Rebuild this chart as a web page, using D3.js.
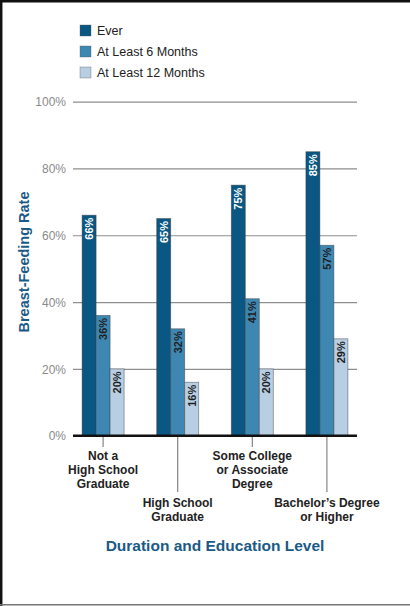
<!DOCTYPE html>
<html>
<head>
<meta charset="utf-8">
<script src="https://cdn.jsdelivr.net/npm/d3@7"></script>
<style>
  html, body { margin: 0; padding: 0; background: #fff; }
  svg { display: block; }
</style>
</head>
<body>
<script>
// ---- data ----
const categories = [
  ["Not a", "High School", "Graduate"],
  ["High School", "Graduate"],
  ["Some College", "or Associate", "Degree"],
  ["Bachelor\u2019s Degree", "or Higher"]
];
const seriesNames = ["Ever", "At Least 6 Months", "At Least 12 Months"];
const everValues = [66, 65, 75, 85];
const sixMonthValues = [36, 32, 41, 57];
const twelveMonthValues = [20, 16, 20, 29];
const yTicks = [0, 20, 40, 60, 80, 100];
const yTitle = "Breast-Feeding Rate";
const xTitle = "Duration and Education Level";

const seriesValues = [everValues, sixMonthValues, twelveMonthValues];
const colors = ["#0b5783", "#3f87b3", "#b8cee3"];
const labelColors = ["#ffffff", "#1e1e1e", "#1e1e1e"];

const W = 410, H = 606;
const svg = d3.select("body").append("svg").attr("width", W).attr("height", H);

// frame
svg.append("rect").attr("x", 0).attr("y", 0).attr("width", W).attr("height", H).attr("fill", "#fff");
svg.append("line").attr("x1", 0).attr("x2", W).attr("y1", 1.2).attr("y2", 1.2).attr("stroke", "#111").attr("stroke-width", 2.5);
svg.append("line").attr("x1", 1.2).attr("x2", 1.2).attr("y1", 0).attr("y2", H).attr("stroke", "#111").attr("stroke-width", 2.5);
svg.append("line").attr("x1", 0).attr("x2", W).attr("y1", 604.8).attr("y2", 604.8).attr("stroke", "#777").attr("stroke-width", 1.5);

const pLeft = 73, pRight = 357, pTop = 101.6, pBottom = 435.7;
const idx = d3.range(categories.length);

const x0 = d3.scaleBand().domain(idx).range([pLeft, pRight]).paddingInner(0.437).paddingOuter(0.122);
const x1 = d3.scaleBand().domain(d3.range(seriesNames.length)).range([0, x0.bandwidth()]);
const y = d3.scaleLinear().domain([0, 100]).range([pBottom, pTop]);

// gridlines + tick labels
const yAxis = d3.axisLeft(y).tickValues(yTicks).tickSize(-(pRight - pLeft)).tickFormat(d => d + "%");
const gy = svg.append("g").attr("transform", `translate(${pLeft},0)`).call(yAxis);
gy.select(".domain").remove();
gy.selectAll(".tick line").attr("stroke", "#8e8e8e").attr("stroke-width", 1.2);
gy.selectAll(".tick text")
  .attr("x", -7).attr("dy", "0.35em")
  .attr("fill", "#8a8a8a")
  .style("font-family", "'Liberation Sans', Arial, sans-serif")
  .style("font-size", "12px");

// bars
const groups = svg.append("g").selectAll("g").data(idx).join("g")
  .attr("transform", i => `translate(${x0(i)},0)`);

groups.each(function(i) {
  const g = d3.select(this);
  seriesValues.forEach((vals, s) => {
    const v = vals[i];
    g.append("rect")
      .attr("x", x1(s)).attr("y", y(v))
      .attr("width", x1.bandwidth()).attr("height", y(0) - y(v))
      .attr("fill", colors[s])
      .attr("stroke", "#3a3a3a").attr("stroke-opacity", 0.55).attr("stroke-width", 0.8);
    const cx = x1(s) + x1.bandwidth() / 2;
    const ty = y(v) + 2.5;
    g.append("text")
      .attr("transform", `translate(${cx},${ty}) rotate(-90)`)
      .attr("text-anchor", "end")
      .attr("dy", "0.36em")
      .attr("fill", labelColors[s])
      .style("font-family", "'Liberation Sans', Arial, sans-serif")
      .style("font-weight", "bold")
      .style("font-size", "11px")
      .text(v + "%");
  });
});

// baseline
svg.append("line").attr("x1", pLeft).attr("x2", pRight).attr("y1", y(0)).attr("y2", y(0))
  .attr("stroke", "#111").attr("stroke-width", 2.6);

// category ticks and labels
idx.forEach(i => {
  const cx = x0(i) + x0.bandwidth() / 2;
  const long = i % 2 === 1;
  svg.append("line").attr("x1", cx).attr("x2", cx)
    .attr("y1", y(0) + 1.3).attr("y2", long ? 492 : 447)
    .attr("stroke", "#7a7a7a").attr("stroke-width", 1.1);
  const t = svg.append("text")
    .attr("text-anchor", "middle")
    .attr("fill", "#222")
    .style("font-family", "'Liberation Sans', Arial, sans-serif")
    .style("font-weight", "bold")
    .style("font-size", "12px");
  const y0 = long ? 507 : 459.5;
  categories[i].forEach((line, k) => {
    t.append("tspan").attr("x", cx).attr("y", y0 + k * 14.2).text(line);
  });
});

// axis titles
svg.append("text")
  .attr("transform", `translate(28.5,262) rotate(-90)`)
  .attr("text-anchor", "middle")
  .attr("fill", "#1b5a86")
  .style("font-family", "'Liberation Sans', Arial, sans-serif")
  .style("font-weight", "bold")
  .style("font-size", "14.5px")
  .text(yTitle);

svg.append("text")
  .attr("x", 215).attr("y", 551)
  .attr("text-anchor", "middle")
  .attr("fill", "#1b5a86")
  .style("font-family", "'Liberation Sans', Arial, sans-serif")
  .style("font-weight", "bold")
  .style("font-size", "15.5px")
  .text(xTitle);

// legend
const legend = svg.append("g").selectAll("g").data(seriesNames).join("g")
  .attr("transform", (d, i) => `translate(80,${25 + i * 21})`);
legend.append("rect").attr("width", 11).attr("height", 11)
  .attr("fill", (d, i) => colors[i])
  .attr("stroke", "#555").attr("stroke-opacity", 0.5).attr("stroke-width", 0.7);
legend.append("text").attr("x", 17).attr("y", 10)
  .attr("fill", "#222")
  .style("font-family", "'Liberation Sans', Arial, sans-serif")
  .style("font-size", "12.5px")
  .text(d => d);
</script>
</body>
</html>
